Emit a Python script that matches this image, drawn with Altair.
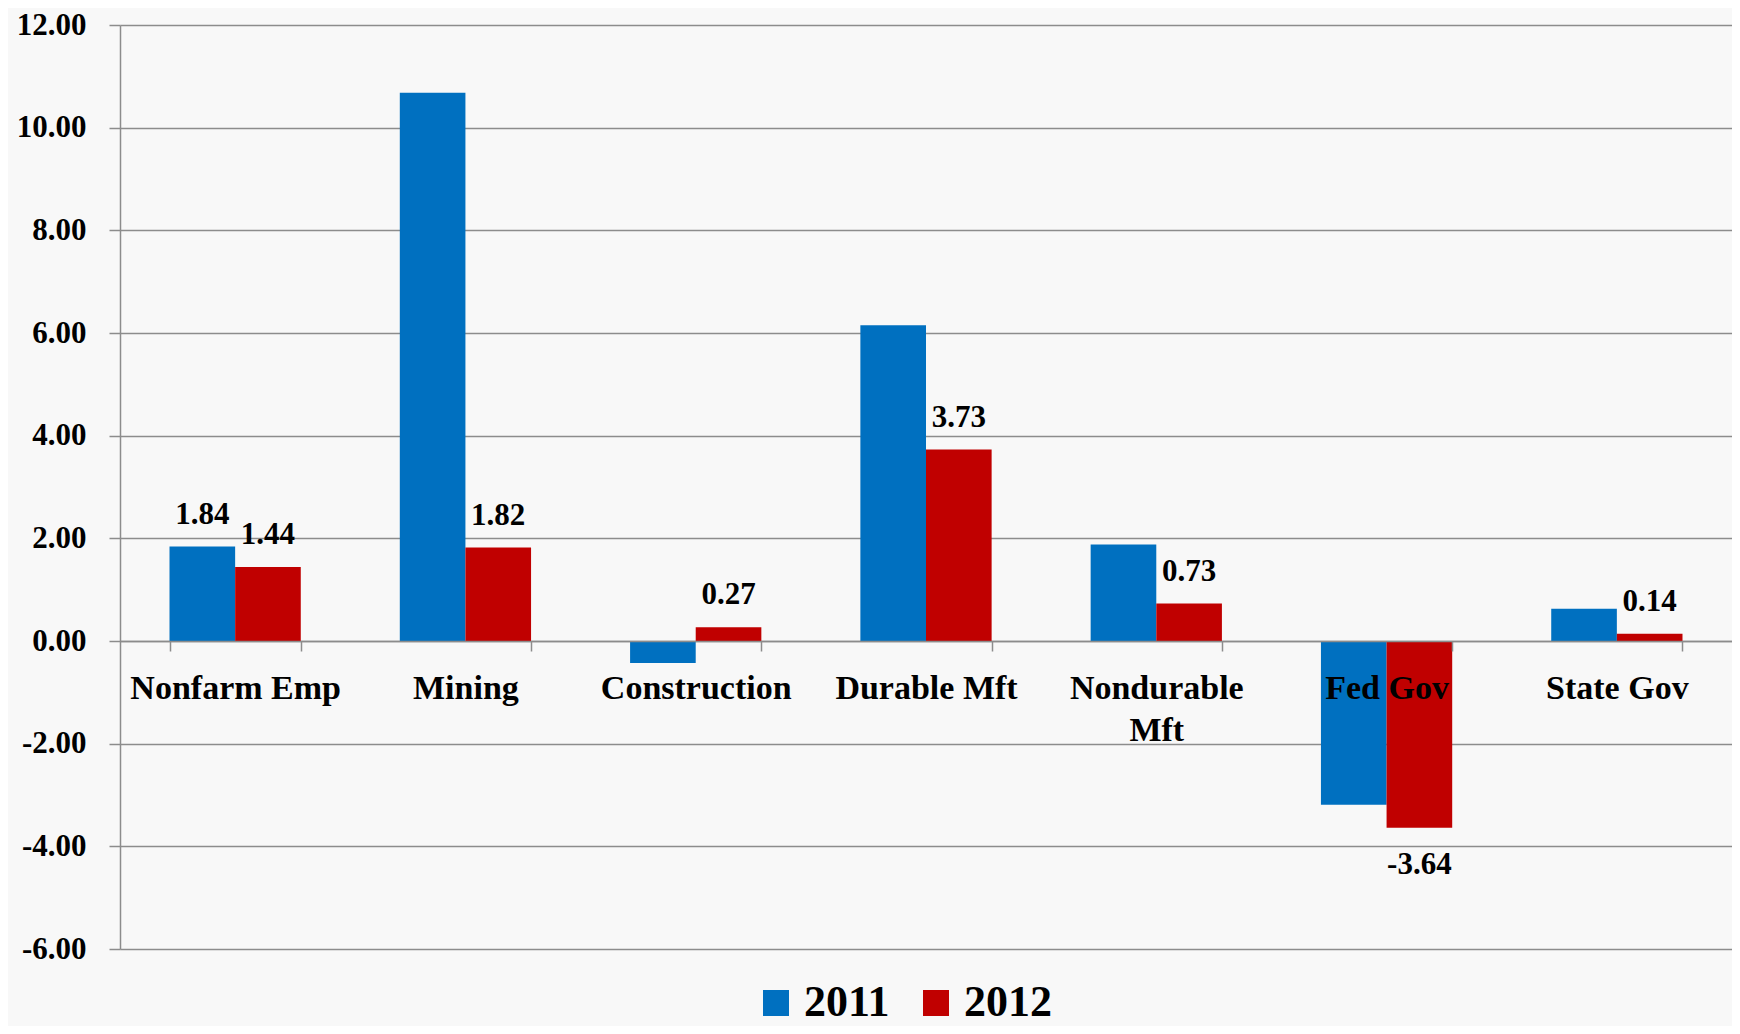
import altair as alt
import pandas as pd

categories = ["Nonfarm Emp", "Mining", "Construction", "Durable Mft",
              "Nondurable Mft", "Fed Gov", "State Gov"]
years = ["2011", "2012"]
v2011 = [1.84, 10.68, -0.43, 6.15, 1.88, -3.19, 0.63]
v2012 = [1.44, 1.82, 0.27, 3.73, 0.73, -3.64, 0.14]
show2011 = [True, False, False, False, False, False, False]
show2012 = [True, True, True, True, True, True, True]
colors = ["#0070C0", "#C00000"]

rows = []
for i, c in enumerate(categories):
    for y, vals, show in ((years[0], v2011, show2011), (years[1], v2012, show2012)):
        rows.append({"cat": c, "year": y, "value": vals[i],
                     "label": f"{vals[i]:.2f}" if show[i] else ""})
df = pd.DataFrame(rows)

FONT = "Liberation Serif"
W, H = 1612, 924
zero_offset = -(H - H * 12 / 18)

x = alt.X("cat:N", sort=categories, title=None,
          scale=alt.Scale(paddingInner=0.43, paddingOuter=0.215),
          axis=alt.Axis(orient="bottom", offset=zero_offset, labelAngle=0,
                        labelFont=FONT, labelFontSize=34, labelFontWeight="bold",
                        labelColor="black", labelPadding=20, labelLineHeight=42,
                        labelLimit=0,
                        labelExpr="datum.label == 'Nondurable Mft' ? ['Nondurable', 'Mft'] : datum.label",
                        domainColor="#8c8c8c", domainWidth=1.5,
                        tickColor="#8c8c8c", tickWidth=1.5, tickSize=10,
                        tickBand="extent", zindex=1, labelOverlap=False))
y = alt.Y("value:Q", title=None,
          scale=alt.Scale(domain=[-6, 12], nice=False, zero=False),
          axis=alt.Axis(values=[-6, -4, -2, 0, 2, 4, 6, 8, 10, 12],
                        labelExpr="replace(format(datum.value, '.2f'), '\u2212', '-')",
                        labelFont=FONT, labelFontSize=31, labelFontWeight="bold",
                        labelColor="black", labelPadding=23,
                        grid=True, gridColor="#8c8c8c", gridWidth=1.5,
                        domainColor="#8c8c8c", domainWidth=1.5,
                        tickColor="#8c8c8c", tickWidth=1.5, tickSize=11, zindex=0))
xo = alt.XOffset("year:N", sort=years, scale=alt.Scale(paddingInner=0, paddingOuter=0))

bars = alt.Chart(df).mark_bar().encode(
    x=x, y=y, xOffset=xo,
    color=alt.Color("year:N", sort=years,
                    scale=alt.Scale(domain=years, range=colors),
                    legend=alt.Legend(title=None, orient="none", legendX=634, legendY=956,
                                      direction="horizontal", symbolType="square",
                                      symbolSize=676, symbolStrokeWidth=0,
                                      labelFont=FONT, labelFontSize=44,
                                      labelFontWeight="bold", labelColor="black",
                                      labelOffset=6, columnPadding=24, padding=0)),
)

txt_common = dict(font=FONT, fontSize=31, fontWeight="bold", color="black",
                  baseline="middle", align="center")
pos_text = alt.Chart(df).transform_filter(
    "datum.label != '' && datum.value >= 0").mark_text(dy=-32, **txt_common).encode(
    x=alt.X("cat:N", sort=categories), y="value:Q", xOffset=xo, text="label:N")
neg_text = alt.Chart(df).transform_filter(
    "datum.label != '' && datum.value < 0").mark_text(dy=37, **txt_common).encode(
    x=alt.X("cat:N", sort=categories), y="value:Q", xOffset=xo, text="label:N")

chart = alt.layer(bars, pos_text, neg_text).properties(
    width=W, height=H,
    autosize=alt.AutoSizeParams(type="none"),
    padding={"left": 112, "top": 17, "right": 0, "bottom": 77},
    background="#f8f8f8",
).configure_view(stroke=None)

chart.save("out.html", embed_options={"renderer": "svg", "actions": False})
